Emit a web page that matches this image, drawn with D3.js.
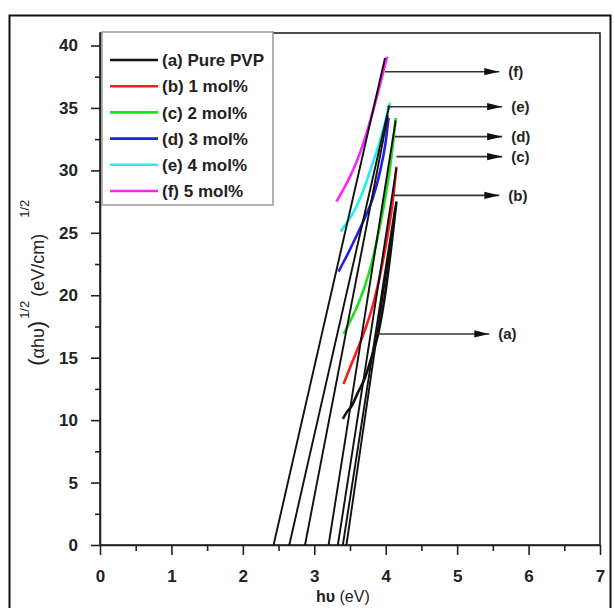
<!DOCTYPE html>
<html>
<head>
<meta charset="utf-8">
<script src="https://cdn.jsdelivr.net/npm/d3@7"></script>
<style>
    body { margin: 0; background: #fff; }
    svg text { font-family: "Liberation Sans", Arial, sans-serif; }
    .axis path, .axis line { stroke: #222; stroke-width: 1.6px; }
    .axis text { font-size: 17px; font-weight: bold; fill: #222; }
</style>
</head>
<body>
<div id="chart"></div>
<script>
// Tick values
const xTicks = [0, 1, 2, 3, 4, 5, 6, 7];
const yTicks = [0, 5, 10, 15, 20, 25, 30, 35, 40];

// Series names (legend order)
const seriesNames = ["(a) Pure PVP", "(b) 1 mol%", "(c) 2 mol%", "(d) 3 mol%", "(e) 4 mol%", "(f) 5 mol%"];
const seriesColors = ["#111111", "#ff1a1a", "#1fe01f", "#1f1fe8", "#1fefef", "#ff22ff"];

// Measured curves, [hv (eV), (alpha hv)^1/2]
const curveA = [[3.40, 10.1], [3.45, 10.6], [3.52, 11.1], [3.61, 12.2], [3.71, 13.4], [3.80, 15.0], [3.89, 16.8], [4.00, 20.4], [4.08, 24.0], [4.15, 27.5]];
const curveB = [[3.41, 12.9], [3.52, 14.5], [3.62, 15.9], [3.72, 17.4], [3.82, 19.2], [3.92, 21.6], [4.02, 24.6], [4.10, 27.6], [4.15, 30.3]];
const curveC = [[3.41, 16.9], [3.50, 17.9], [3.60, 19.1], [3.70, 20.6], [3.80, 22.5], [3.90, 25.0], [4.00, 28.0], [4.07, 30.6], [4.14, 34.2]];
const curveD = [[3.34, 21.9], [3.45, 23.1], [3.57, 24.5], [3.70, 26.1], [3.82, 27.8], [3.92, 29.9], [4.00, 32.3], [4.04, 34.2]];
const curveE = [[3.37, 25.1], [3.48, 26.0], [3.59, 27.1], [3.70, 28.6], [3.80, 30.3], [3.90, 32.0], [3.98, 33.6], [4.06, 35.4]];
const curveF = [[3.31, 27.5], [3.40, 28.4], [3.50, 29.5], [3.60, 30.8], [3.70, 32.4], [3.80, 34.3], [3.90, 36.4], [4.02, 39.1]];

// Linear extrapolations down to the energy axis
const fitA = [[3.40, 0], [4.13, 27.0]];
const fitA2 = [[3.45, 0], [4.15, 27.5]];
const fitB = [[3.33, 0], [4.15, 30.2]];
const fitC = [[3.20, 0], [4.14, 34.0]];
const fitD = [[2.87, 0], [4.03, 34.4]];
const fitE = [[2.65, 0], [4.05, 35.2]];
const fitF = [[2.43, 0], [3.99, 39.0]];

// Arrow annotations
const arrowLabels = ["(a)", "(b)", "(c)", "(d)", "(e)", "(f)"];
const arrowY = [16.9, 28.0, 31.1, 32.7, 35.1, 37.9];
const arrowFrom = [3.89, 4.11, 4.15, 4.13, 4.02, 3.99];
const arrowTo = [5.45, 5.59, 5.63, 5.63, 5.63, 5.59];

class TaucPlot {
    constructor(parentElement) {
        this.parentElement = parentElement;
        this.initVis();
    }

    initVis() {
        let vis = this;

        vis.W = 614;
        vis.H = 608;
        vis.margin = {top: 33, right: 14, bottom: 63, left: 100};
        vis.width = vis.W - vis.margin.left - vis.margin.right;
        vis.height = vis.H - vis.margin.top - vis.margin.bottom;

        vis.root = d3.select("#" + vis.parentElement).append("svg")
            .attr("width", vis.W)
            .attr("height", vis.H);

        // outer picture frame
        vis.root.append("rect")
            .attr("x", 9.5).attr("y", 15.5)
            .attr("width", 601).attr("height", 610)
            .attr("fill", "none")
            .attr("stroke", "#111")
            .attr("stroke-width", 2);

        vis.svg = vis.root.append("g")
            .attr("transform", `translate(${vis.margin.left}, ${vis.margin.top})`);

        vis.x = d3.scaleLinear().domain([0, 7]).range([0, vis.width]);
        vis.y = d3.scaleLinear().domain([0, 41]).range([vis.height, 0]);

        vis.defs = vis.root.append("defs");
        vis.defs.append("marker")
            .attr("id", "head")
            .attr("markerUnits", "userSpaceOnUse")
            .attr("viewBox", "0 -5 15 10")
            .attr("refX", 15).attr("refY", 0)
            .attr("markerWidth", 15).attr("markerHeight", 10)
            .attr("orient", "auto")
            .append("path")
            .attr("d", "M0,-3.6L15,0L0,3.6Z")
            .attr("fill", "#111");

        vis.wrangleData();
    }

    wrangleData() {
        let vis = this;

        let curves = [curveA, curveB, curveC, curveD, curveE, curveF];
        vis.curveData = curves.map((c, i) => ({name: seriesNames[i], color: seriesColors[i], pts: c}));
        vis.fitData = [fitA, fitA2, fitB, fitC, fitD, fitE, fitF];
        vis.arrowData = arrowLabels.map((l, i) => ({label: l, y: arrowY[i], x0: arrowFrom[i], x1: arrowTo[i]}));

        vis.updateVis();
    }

    updateVis() {
        let vis = this;

        // plot box
        vis.svg.append("rect")
            .attr("width", vis.width)
            .attr("height", vis.height)
            .attr("fill", "none")
            .attr("stroke", "#222")
            .attr("stroke-width", 1.6);

        // axes with minor ticks
        let xMinor = d3.range(0, 7.01, 0.5).filter(v => v % 1 !== 0);
        let yMinor = d3.range(0, 41, 2.5).filter(v => v % 5 !== 0);

        vis.svg.append("g")
            .attr("class", "axis")
            .attr("transform", `translate(0, ${vis.height})`)
            .call(d3.axisBottom(vis.x).tickValues(xMinor).tickSize(6).tickFormat(""))
            .call(g => g.select(".domain").remove());
        vis.svg.append("g")
            .attr("class", "axis")
            .attr("transform", `translate(0, ${vis.height})`)
            .call(d3.axisBottom(vis.x).tickValues(xTicks).tickFormat(d3.format("d")).tickSize(10).tickPadding(12).tickSizeOuter(0))
            .selectAll("text").attr("dy", "0.9em");

        vis.svg.append("g")
            .attr("class", "axis")
            .call(d3.axisLeft(vis.y).tickValues(yMinor).tickSize(5).tickFormat(""))
            .call(g => g.select(".domain").remove());
        vis.svg.append("g")
            .attr("class", "axis")
            .call(d3.axisLeft(vis.y).tickValues(yTicks).tickSize(9).tickPadding(13).tickSizeOuter(0));

        // axis titles
        vis.svg.append("text")
            .attr("x", vis.x(3.4))
            .attr("y", vis.height + 57)
            .attr("text-anchor", "middle")
            .style("font-size", "16px")
            .style("fill", "#222")
            .html('<tspan font-weight="bold">h\u03c5</tspan> (eV)');

        let yt = vis.svg.append("text")
            .attr("transform", `translate(-56, ${vis.y(21.0)}) rotate(-90)`)
            .attr("text-anchor", "middle")
            .style("font-size", "18px")
            .style("fill", "#222");
        yt.append("tspan").style("font-size", "22px").text("(");
        yt.append("tspan").text("\u03b1h\u03c5");
        yt.append("tspan").style("font-size", "22px").text(")");
        yt.append("tspan").attr("dy", -15).attr("dx", 2).style("font-size", "13px").text("1/2");
        yt.append("tspan").attr("dy", 15).attr("dx", 4).text("(eV/cm)");
        yt.append("tspan").attr("dy", -15).attr("dx", 16).style("font-size", "13px").text("1/2");

        let line = d3.line()
            .x(d => vis.x(d[0]))
            .y(d => vis.y(d[1]));
        let smooth = d3.line()
            .x(d => vis.x(d[0]))
            .y(d => vis.y(d[1]))
            .curve(d3.curveMonotoneX);

        // measured curves
        vis.svg.selectAll(".curve")
            .data(vis.curveData)
            .enter()
            .append("path")
            .attr("class", "curve")
            .attr("d", d => smooth(d.pts))
            .attr("fill", "none")
            .attr("stroke", d => d.color)
            .attr("stroke-width", 2.6);

        // fitted lines
        vis.svg.selectAll(".fit")
            .data(vis.fitData)
            .enter()
            .append("path")
            .attr("class", "fit")
            .attr("d", d => line(d))
            .attr("fill", "none")
            .attr("stroke", "#111")
            .attr("stroke-width", 1.9);

        // arrows + labels
        let arrows = vis.svg.selectAll(".arrow")
            .data(vis.arrowData)
            .enter()
            .append("g")
            .attr("class", "arrow");
        arrows.append("line")
            .attr("x1", d => vis.x(d.x0))
            .attr("x2", d => vis.x(d.x1))
            .attr("y1", d => vis.y(d.y))
            .attr("y2", d => vis.y(d.y))
            .attr("stroke", "#333")
            .attr("stroke-width", 1.6)
            .attr("marker-end", "url(#head)");
        arrows.append("text")
            .attr("x", d => vis.x(d.x1) + 9)
            .attr("y", d => vis.y(d.y))
            .attr("dy", "0.35em")
            .style("font-size", "15px")
            .style("font-weight", "bold")
            .style("fill", "#222")
            .text(d => d.label);

        // legend
        let lg = vis.root.append("g")
            .attr("transform", "translate(102, 32)");
        lg.append("rect")
            .attr("width", 171)
            .attr("height", 173)
            .attr("fill", "#fff")
            .attr("stroke", "#999")
            .attr("stroke-width", 1.5);
        let items = lg.selectAll(".item")
            .data(vis.curveData)
            .enter()
            .append("g")
            .attr("class", "item")
            .attr("transform", (d, i) => `translate(0, ${28 + i * 26.2})`);
        items.append("line")
            .attr("x1", 8).attr("x2", 56)
            .attr("stroke", d => d.color)
            .attr("stroke-width", 2.6);
        items.append("text")
            .attr("x", 60)
            .attr("dy", "0.36em")
            .style("font-size", "17px")
            .style("font-weight", "bold")
            .style("fill", "#222")
            .text(d => d.name);
    }
}

new TaucPlot("chart");
</script>
</body>
</html>
